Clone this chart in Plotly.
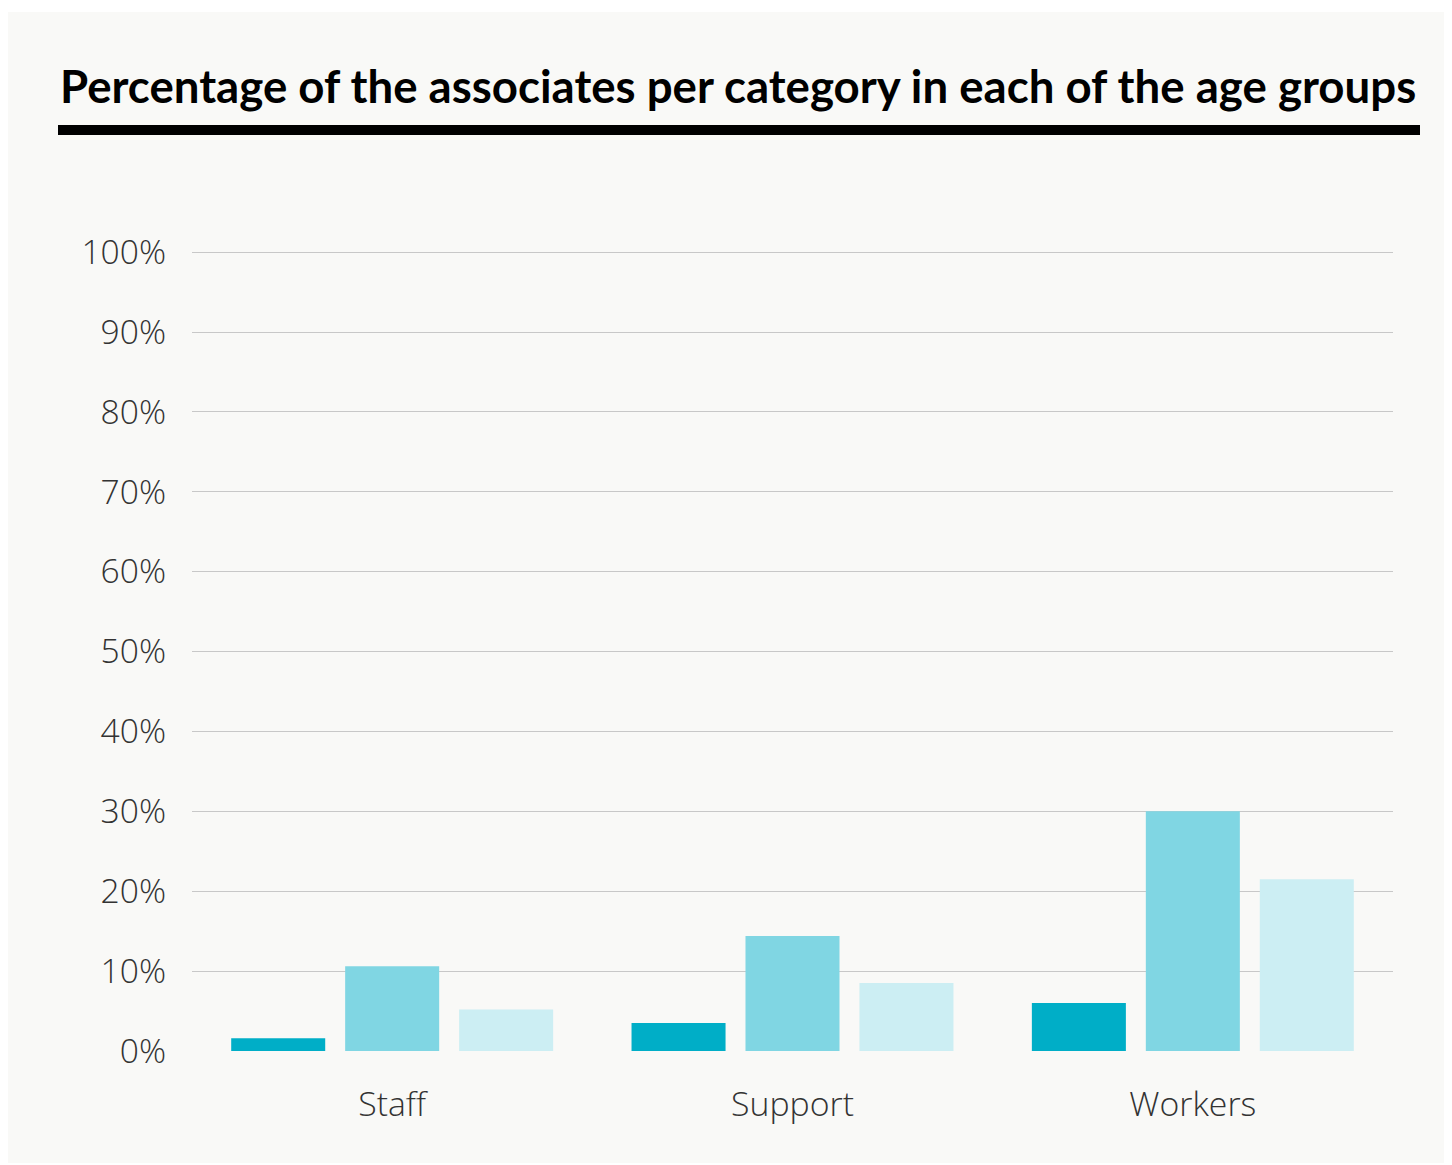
import plotly.graph_objects as go

categories = ["Staff", "Support", "Workers"]
group_names = ["Age group 1", "Age group 2", "Age group 3"]
values_group1 = [1.6, 3.5, 6.0]
values_group2 = [10.6, 14.4, 30.0]
values_group3 = [5.2, 8.5, 21.5]
colors = ["#00AEC7", "#80D6E3", "#CCEEF3"]
tick_vals = [0, 10, 20, 30, 40, 50, 60, 70, 80, 90, 100]
tick_text = [f"{v}%" for v in tick_vals]
title_text = "Percentage of the associates per category in each of the age groups"

OFF = 8  # page body margin
W, H = 1452 - OFF, 1165 - OFF
L, R, T, B = 192 - OFF, 1393 - OFF, 251 - OFF, 1051 - OFF
pw, ph = R - L, B - T

def px(x):
    return (x - OFF - L) / pw

def py(y):
    return (B - (y - OFF)) / ph

fig = go.Figure()
for name, vals, col in zip(group_names, [values_group1, values_group2, values_group3], colors):
    fig.add_trace(go.Bar(x=categories, y=vals, name=name, marker=dict(color=col, line=dict(width=0))))

fig.update_layout(
    width=W, height=H,
    margin=dict(l=L, r=W - R, t=T, b=H - B, pad=0),
    paper_bgcolor="#ffffff",
    plot_bgcolor="rgba(0,0,0,0)",
    barmode="group", bargap=0.146, bargroupgap=0.175,
    showlegend=False,
    font=dict(family="Open Sans", color="#333333"),
    xaxis=dict(showgrid=False, showline=False, ticks="", zeroline=False,
               tickfont=dict(family="Open Sans", size=33.8, color="#333333", weight=300),
               ticklabelstandoff=30),
    yaxis=dict(range=[0, 100.15], tickvals=tick_vals, ticktext=tick_text,
               showgrid=True, gridcolor="#c8c8c8", gridwidth=1, zeroline=False,
               showline=False, ticks="",
               tickfont=dict(family="Open Sans", size=33.6, color="#333333", weight=300),
               ticklabelstandoff=25),
    shapes=[
        dict(type="rect", xref="paper", yref="paper", x0=px(5), x1=px(1447), y0=py(1163), y1=py(12),
             fillcolor="#f9f9f7", line=dict(width=0), layer="below"),
        dict(type="rect", xref="paper", yref="paper", x0=px(58), x1=px(1420), y0=py(135), y1=py(125),
             fillcolor="#000000", line=dict(width=0), layer="above"),
    ],
    annotations=[
        dict(text=f"<b>{title_text}</b>", xref="paper", yref="paper", x=px(58), y=py(86),
             xanchor="left", yanchor="middle", showarrow=False,
             font=dict(family="Lato", size=45.6, color="#000000")),
    ],
)

fig.write_html("out.html")
